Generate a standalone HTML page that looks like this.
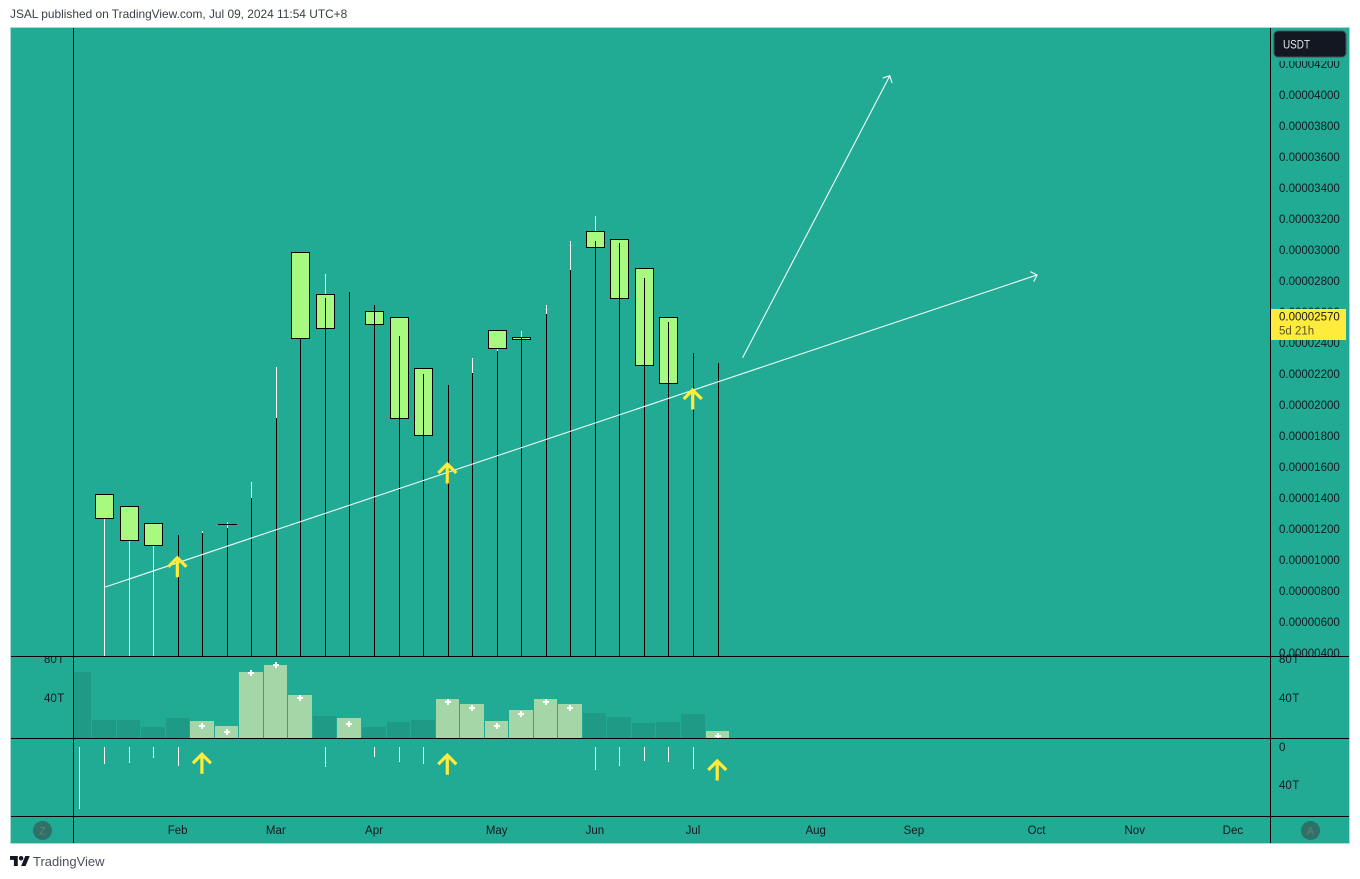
<!DOCTYPE html>
<html lang="en">
<head>
<meta charset="utf-8">
<title>JSAL chart</title>
<style>
html,body{margin:0;padding:0;background:#fff;width:1360px;height:879px;overflow:hidden}
svg{display:block;font-family:"Liberation Sans",sans-serif}
text{fill:#131722;font-size:11.5px}
</style>
</head>
<body>
<svg id="chart" xmlns="http://www.w3.org/2000/svg" width="1360" height="879" viewBox="0 0 1360 879">
  <defs>
    <clipPath id="price-clip"><rect x="11" y="28" width="1259" height="628"/></clipPath>
    <clipPath id="volume-clip"><rect x="73" y="657" width="1197" height="81"/></clipPath>
    <clipPath id="left-axis-clip"><rect x="11" y="657" width="62" height="81"/></clipPath>
    <clipPath id="price-axis-clip"><rect x="1271" y="61" width="78" height="600"/></clipPath>
  </defs>
  <text x="10" y="18" style="fill:#3a3e48;font-size:11.9px">JSAL published on TradingView.com, Jul 09, 2024 11:54 UTC+8</text>
  <rect x="10.5" y="27.5" width="1339" height="816" fill="#22ab94" stroke="#a5dbd1"/>
  <g id="volume-layer" clip-path="url(#volume-clip)"></g>
  <g id="sell-layer"></g>
  <g id="candle-layer" clip-path="url(#price-clip)"></g>
  <g id="drawing-layer"></g>
  <g id="arrow-layer"></g>
  <g id="grid-lines" stroke="#000" stroke-width="1" shape-rendering="crispEdges">
    <line x1="73.5" y1="28" x2="73.5" y2="843"/>
    <line x1="1270.5" y1="28" x2="1270.5" y2="843"/>
    <line x1="11" y1="656.5" x2="1349" y2="656.5"/>
    <line x1="11" y1="738.5" x2="1349" y2="738.5"/>
    <line x1="11" y1="816.5" x2="1349" y2="816.5"/>
  </g>
  <g id="price-axis" clip-path="url(#price-axis-clip)"></g>
  <g id="volume-axis"></g>
  <g id="time-axis"></g>
  <g>
    <rect x="1274" y="31" width="72" height="26" rx="4" fill="#131722" stroke="#4a4e59"/>
    <text x="1283" y="48.5" textLength="27" lengthAdjust="spacingAndGlyphs" style="fill:#e8e9ec;font-size:12px">USDT</text>
  </g>
  <g id="price-tag"></g>
  <g>
    <circle cx="42.5" cy="830.5" r="9.5" fill="#2f7069"/>
    <text x="42.5" y="834.5" text-anchor="middle" style="fill:#6b7a80;font-size:11px">Z</text>
  </g>
  <g>
    <circle cx="1310.5" cy="830.5" r="9.5" fill="#2f7069"/>
    <text x="1310.5" y="834.5" text-anchor="middle" style="fill:#6b7a80;font-size:11px">A</text>
  </g>
  <g transform="translate(10 853.8) scale(0.556)" fill="#131722">
    <path d="M14 22H7V11H0V4h14v18zM28 22h-8l7.5-18h8L28 22z"/>
    <circle cx="20" cy="8" r="4"/>
  </g>
  <text x="33" y="866" style="fill:#4a4e59;font-size:13px">TradingView</text>
</svg>
<script>
// Prices are in units of 0.00000001 USDT. Index 0 is the first candle with a visible body.
const priceTicks = [400,600,800,1000,1200,1400,1600,1800,2000,2200,2400,2600,2800,3000,3200,3400,3600,3800,4000,4200];
const lastPrice = 2570;
const countdown = "5d 21h";
const monthLabels = ["Feb","Mar","Apr","May","Jun","Jul","Aug","Sep","Oct","Nov","Dec"];
const monthIndex = [3,7,11,16,20,24,29,33,38,42,46];
const bodyHigh = [1424,1346,1237,null,null,1230,null,null,2985,2710,null,2605,2566,2237,null,null,2482,2437,null,null,3121,3069,2882,2566,null,null];
const bodyLow = [1269,1127,1095,null,null,1230,null,null,2430,2495,null,2519,1914,1805,null,null,2366,2424,null,null,3017,2688,2256,2140,null,null];
const upperWick = [1269,1127,1095,null,1187,1239,1497,2239,null,2839,null,null,null,null,null,2297,2366,2477,2645,3052,3213,null,null,null,null,null];
const innerWick = [null,null,null,1155,1174,1206,1400,1910,2430,2684,2723,2639,2439,2200,2123,2206,2342,2426,2581,2865,3052,3039,2819,2535,2335,2265];
// Volume in trillions; the list starts one bar before candle 0.
const volumeValues = [64.4,17.6,17.6,10.7,19.5,16.6,11.7,64.4,71.2,42,21.5,19.5,10.7,15.6,17.6,38,33.2,16.6,27.3,38,33.2,24.4,20.5,14.6,15.6,23.4,6.8];
const volumeUp = [0,0,0,0,0,1,1,1,1,1,0,1,0,0,0,1,1,1,1,1,1,0,0,0,0,0,1];
const plusValues = [null,null,null,null,null,11.7,5.9,63.4,71.2,39,null,13.7,null,null,null,35.1,29.3,11.7,23.4,35.1,29.3,null,null,null,null,null,2];
const sellValues = [65,18,17,11.5,20,null,null,null,null,null,21,null,10.5,15.5,17.5,null,null,null,null,null,null,24,20,14.5,15.5,23,null];
const volumeTicksUp = [40,80];
const volumeTicksDown = [0,40];
const trendIndex = [[0,38],[26,32]];
const trendPrice = [[824,2839],[2305,4124]];
const priceArrowIndex = [3,14,24];
const priceArrowPrice = [1021,1626,2103];
const sellArrowIndex = [4,14,25];
const sellArrowValue = [6.5,7.5,13.5];

const NS = "http://www.w3.org/2000/svg";
const BAR_ORIGIN = 104.05, BAR_STEP = 24.54;
const priceFloorY = 653, pxPerPrice = 31/200;
const PANE_BOTTOM = 656;
function barPx(i){ return i < 0 ? Math.floor(BAR_ORIGIN + BAR_STEP*i) : Math.round(BAR_ORIGIN + BAR_STEP*i); }
function xScale(i){ return barPx(i) + 0.5; }
function rawX(i){ return BAR_ORIGIN + BAR_STEP*i + 0.5; }
function priceY(p){ return priceFloorY - (p-400)*pxPerPrice; }
function volY(v){ return 738 - v*1.025; }
function volLabelY(v){ return 736.7 - v*0.97; }
function sellY(v){ return 747 + v*0.96; }
function make(parent, tag, attrs, text){
  const el = document.createElementNS(NS, tag);
  for (const k in attrs) el.setAttribute(k, attrs[k]);
  if (text !== undefined) el.textContent = text;
  parent.appendChild(el);
  return el;
}
const candleLayer = document.getElementById("candle-layer");
const volumeLayer = document.getElementById("volume-layer");
const sellLayer = document.getElementById("sell-layer");
const drawingLayer = document.getElementById("drawing-layer");
const arrowLayer = document.getElementById("arrow-layer");
const priceAxis = document.getElementById("price-axis");
const volumeAxis = document.getElementById("volume-axis");
const timeAxis = document.getElementById("time-axis");
const priceTag = document.getElementById("price-tag");

// candles: white wick, then body, then black inner line
bodyHigh.forEach(function(_, i){
  const x = xScale(i);
  if (upperWick[i] !== null){
    const w = make(candleLayer, "line", {x1:x, x2:x, y1:Math.floor(priceY(upperWick[i])), y2:PANE_BOTTOM, stroke:"#fff", "shape-rendering":"crispEdges"});
    
    
  }
  if (bodyHigh[i] !== null){
    const t = Math.floor(priceY(bodyHigh[i])) + 0.5;
    const b = Math.floor(priceY(bodyLow[i])) + 0.5;
    const r = make(candleLayer, "rect", {x:x-9, y:t, width:18, height:Math.max(b-t,0.01), fill:"#a8f97f", stroke:"#000", "shape-rendering":"crispEdges"});
    
    
  }
  if (innerWick[i] !== null){
    const k = make(candleLayer, "line", {x1:x, x2:x, y1:Math.floor(priceY(innerWick[i])), y2:PANE_BOTTOM, stroke:"#000", "shape-rendering":"crispEdges"});
    
    
  }
});

// volume bars: list index n is candle index n-1
volumeValues.forEach(function(v, n){
  const i = n-1;
  const left = Math.ceil((barPx(i-1)+barPx(i))/2);
  const right = Math.ceil((barPx(i)+barPx(i+1))/2) - 1;
  const top = Math.round(volY(v));
  const bar = make(volumeLayer, "rect", {x:left, y:top, width:right-left, height:738-top, fill:volumeUp[n] ? "#a5d6a7" : "#1f9a87", "shape-rendering":"crispEdges"});
  
  
});
plusValues.forEach(function(v, n){
  if (v === null) return;
  const cx = barPx(n-1), cy = Math.round(volY(v));
  const h = make(volumeLayer, "rect", {x:cx-3, y:cy-1, width:6, height:2, fill:"#fff", "shape-rendering":"crispEdges"});
  
  
  const u = make(volumeLayer, "rect", {x:cx-1, y:cy-3, width:2, height:6, fill:"#fff", "shape-rendering":"crispEdges"});
  
  
});
sellValues.forEach(function(v, n){
  if (v === null) return;
  const x = xScale(n-1);
  const s = make(sellLayer, "line", {x1:x, x2:x, y1:sellY(0), y2:Math.round(sellY(v)), stroke:"#fff", "shape-rendering":"crispEdges"});
  
  
});

// trend lines with open arrowheads
trendIndex.forEach(function(ix, n){
  const x1 = rawX(ix[0]), y1 = priceY(trendPrice[n][0]);
  const x2 = rawX(ix[1]), y2 = priceY(trendPrice[n][1]);
  const a = Math.atan2(y2-y1, x2-x1), len = 7.5, spread = 0.78;
  const ax = x2 - len*Math.cos(a-spread), ay = y2 - len*Math.sin(a-spread);
  const bx = x2 - len*Math.cos(a+spread), by = y2 - len*Math.sin(a+spread);
  const l = make(drawingLayer, "path", {d:"M"+x1+" "+y1+"L"+x2+" "+y2+"M"+ax+" "+ay+"L"+x2+" "+y2+"L"+bx+" "+by, fill:"none", stroke:"#f2fbf8", "stroke-width":1.1});
  
  
});

// yellow signal arrows
function yellowArrow(x, tip){
  const p = make(arrowLayer, "path", {d:"M"+x+" "+(tip+20.5)+"V"+(tip+2)+"M"+(x-9)+" "+(tip+10)+"L"+x+" "+(tip+1)+"L"+(x+9)+" "+(tip+10), fill:"none", stroke:"#ffeb3b", "stroke-width":3.2});
  
  
}
priceArrowIndex.forEach(function(i, n){ yellowArrow(rawX(i)-0.8, priceY(priceArrowPrice[n])); });
sellArrowIndex.forEach(function(i, n){ yellowArrow(rawX(i)-0.8, sellY(sellArrowValue[n])); });

// axes
priceTicks.forEach(function(p){
  const t = make(priceAxis, "text", {x:1279, y:priceY(p)+4}, (p*1e-8).toFixed(8));
  
  
});
monthLabels.forEach(function(m, n){
  const t = make(timeAxis, "text", {x:rawX(monthIndex[n])-0.5, y:834, "text-anchor":"middle"}, m);
  
  
});
volumeTicksUp.forEach(function(v){
  const yPos = volLabelY(v) + 4;
  const r = make(volumeAxis, "text", {x:1279, y:yPos, "word-spacing":"-2.5"}, v+" T");
  
  
  const l = make(volumeAxis, "text", {x:44, y:yPos, "word-spacing":"-2.5", "clip-path":"url(#left-axis-clip)"}, v+" T");
  
  
});
volumeTicksDown.forEach(function(v){
  const t = make(volumeAxis, "text", {x:1279, y:sellY(v)+3.8, "word-spacing":"-2.5"}, v === 0 ? "0" : v+" T");
  
  
});

// last price tag
const tagY = priceY(lastPrice);
const tagBox = make(priceTag, "rect", {x:1271, y:Math.round(tagY)-8, width:75, height:31, fill:"#ffeb3b"});


const tagPrice = make(priceTag, "text", {x:1279, y:tagY+4}, (lastPrice*1e-8).toFixed(8));


const tagTime = make(priceTag, "text", {x:1279, y:tagY+18, style:"fill:#5a5620"}, countdown);


</script>
</body>
</html>
